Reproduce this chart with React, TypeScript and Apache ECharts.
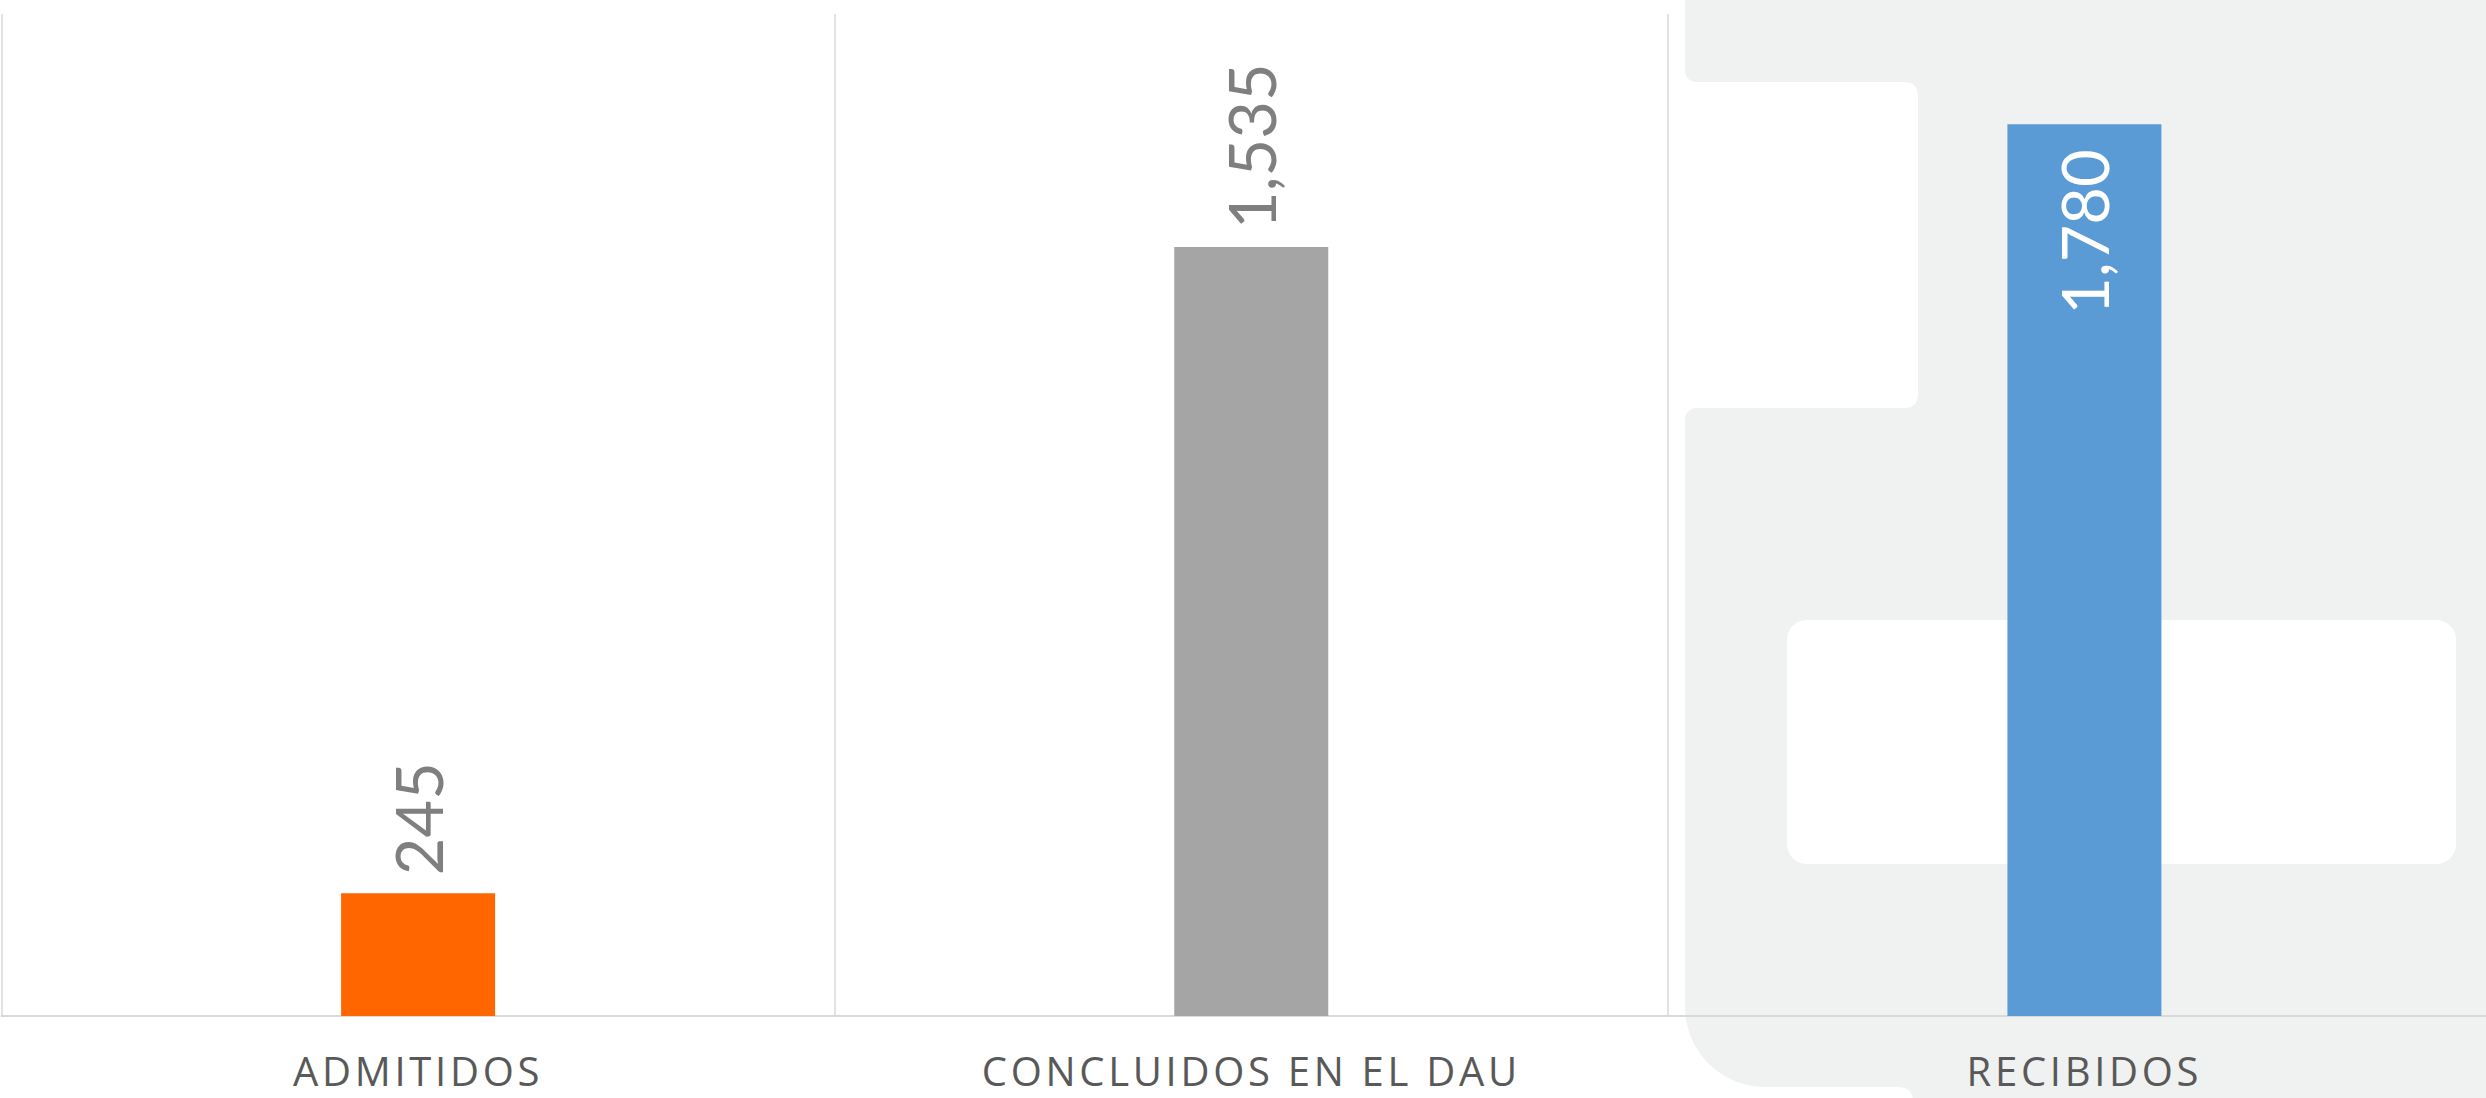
import React, { useEffect, useRef } from "react";
import * as echarts from "echarts";

const categories = ["ADMITIDOS", "CONCLUIDOS EN EL DAU", "RECIBIDOS"];
const values = [245, 1535, 1780];
const barColors = ["#FF6600", "#A5A5A5", "#5B9BD5"];
const yMax = 2000;

const W = 2486;
const H = 1098;

// decorative watermark shape (background logo fragment)
const logoPath =
  "M 1685 -10 L 2520 -10 L 2520 1120 L 1913 1120 L 1913 1102 Q 1913 1087 1898 1087 L 1765 1087 C 1721 1087 1685 1051 1685 1007 L 1685 421 Q 1685 408 1698 408 L 1904 408 Q 1918 408 1918 394 L 1918 96 Q 1918 82 1904 82 L 1698 82 Q 1685 82 1685 69 Z";

let registered = false;
function ensureShape() {
  if (registered) return;
  echarts.graphic.registerShape("logoShape", echarts.graphic.extendPath(logoPath, {}) as any);
  registered = true;
}

export default function App() {
  const ref = useRef<HTMLDivElement>(null);

  useEffect(() => {
    if (!ref.current) return;
    ensureShape();
    const el = ref.current;
    const chart = echarts.init(el, undefined, { renderer: "svg" });
    const maxVal = Math.max(...values);
    const fmt = (p: any) => Number(p.value).toLocaleString("en-US");

    const outsideLabel = {
      show: true,
      position: "top",
      distance: 18,
      rotate: 90,
      align: "left",
      verticalAlign: "middle",
      color: "#7F7F7F",
      fontSize: 65,
      fontFamily: "Lato",
      formatter: fmt,
    };
    const insideLabel = {
      show: true,
      position: "insideTop",
      distance: 25,
      rotate: 90,
      align: "right",
      verticalAlign: "middle",
      color: "#FFFFFF",
      fontSize: 65,
      fontFamily: "Lato",
      formatter: fmt,
    };

    const spaceLetters = () => {
      el.querySelectorAll("text").forEach((t) => {
        if (categories.includes((t.textContent || "").trim())) {
          (t as SVGTextElement).style.letterSpacing = "3.7px";
        }
      });
    };
    chart.on("finished", spaceLetters);

    chart.setOption({
      animation: false,
      backgroundColor: "#FFFFFF",
      graphic: [
        {
          type: "logoShape",
          x: 0,
          y: 0,
          z: -10,
          silent: true,
          style: { fill: "#F0F1F1" },
        },
        {
          type: "rect",
          z: -9,
          silent: true,
          shape: { x: 1787, y: 620, width: 669, height: 244, r: 20 },
          style: { fill: "#FFFFFF" },
        },
      ],
      grid: {
        left: 1.5,
        width: 2499.5,
        top: 14,
        bottom: 82,
        containLabel: false,
        outerBoundsMode: "none",
      },
      xAxis: {
        type: "category",
        data: categories,
        axisLine: { show: true, lineStyle: { color: "#D9D9D9", width: 2 } },
        axisTick: { show: false },
        splitLine: { show: true, showMinLine: true, lineStyle: { color: "#D9D9D9", width: 1.5 } },
        axisLabel: {
          color: "#595959",
          fontSize: 40,
          fontFamily: "Open Sans",
          margin: 34,
        },
      },
      yAxis: {
        type: "value",
        min: 0,
        max: yMax,
        show: false,
        splitLine: { show: false },
      },
      series: [
        {
          type: "bar",
          barWidth: 154,
          data: values.map((v, i) => ({
            value: v,
            itemStyle: { color: barColors[i] },
            label: v === maxVal ? insideLabel : outsideLabel,
          })),
        },
      ],
    });
    spaceLetters();
    const raf = requestAnimationFrame(spaceLetters);
    return () => {
      cancelAnimationFrame(raf);
      chart.dispose();
    };
  }, []);

  return (
    <div
      ref={ref}
      style={{ position: "fixed", left: 0, top: 0, width: W, height: H, background: "#FFFFFF" }}
    />
  );
}
